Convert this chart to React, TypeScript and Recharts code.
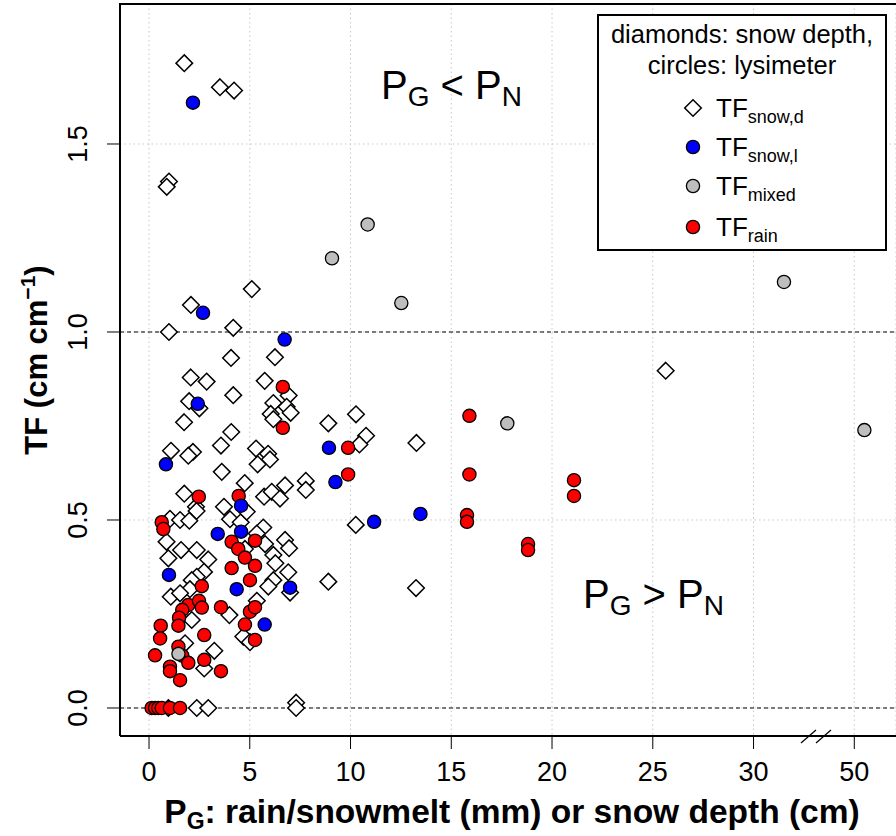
import { CartesianGrid, ReferenceLine, Scatter, ScatterChart, XAxis, YAxis } from 'recharts';

const FONT = "'Liberation Sans', Arial, Helvetica, sans-serif";

const snowDepth = [
  [1.75, 1.715], [3.52, 1.651], [4.22, 1.642], [0.99, 1.4], [0.88, 1.386],
  [5.1, 1.114], [2.08, 1.072], [0.99, 1.0], [4.18, 1.011], [4.07, 0.931], [6.25, 0.933],
  [2.07, 0.879], [2.86, 0.868], [5.74, 0.87], [6.93, 0.831], [4.18, 0.832], [1.99, 0.816],
  [2.5, 0.797], [6.17, 0.811], [6.04, 0.782], [6.83, 0.801], [7.03, 0.785], [6.17, 0.768],
  [1.74, 0.76], [8.9, 0.757], [10.27, 0.781], [10.77, 0.724], [10.44, 0.701], [13.27, 0.705],
  [25.64, 0.897], [4.08, 0.734], [3.57, 0.698], [1.09, 0.684], [2.18, 0.681], [1.95, 0.671],
  [5.31, 0.69], [5.91, 0.676], [6.0, 0.661], [5.39, 0.648], [3.61, 0.628], [4.75, 0.598],
  [1.75, 0.57], [5.71, 0.562], [6.09, 0.575], [6.5, 0.557], [6.75, 0.592], [7.78, 0.604],
  [7.78, 0.58], [2.33, 0.535], [3.72, 0.535], [2.36, 0.524], [1.04, 0.503], [1.54, 0.5],
  [2.0, 0.498], [4.02, 0.502], [4.55, 0.494], [4.85, 0.522], [5.67, 0.48], [5.35, 0.464],
  [10.26, 0.487], [0.87, 0.442], [1.59, 0.42], [2.37, 0.42], [0.96, 0.398], [5.76, 0.436],
  [4.76, 0.423], [6.75, 0.447], [6.95, 0.425], [6.17, 0.407], [6.27, 0.385], [6.91, 0.361],
  [2.94, 0.395], [2.73, 0.362], [2.37, 0.349], [2.12, 0.34], [2.03, 0.316], [1.08, 0.296],
  [1.54, 0.305], [6.17, 0.34], [5.92, 0.323], [7.0, 0.307], [8.9, 0.336], [13.25, 0.319],
  [2.12, 0.234], [3.99, 0.247], [5.35, 0.285], [4.68, 0.19], [5.01, 0.175], [1.79, 0.172],
  [3.24, 0.152], [2.74, 0.105], [0.96, 0], [2.37, 0], [2.94, 0], [7.3, 0.014], [7.3, 0],
];

const snowLys = [
  [2.18, 1.61], [2.68, 1.051], [6.73, 0.98], [2.42, 0.809], [8.93, 0.692], [9.25, 0.601],
  [0.84, 0.648], [4.57, 0.538], [3.41, 0.463], [4.57, 0.469], [11.17, 0.495], [13.47, 0.516],
  [0.99, 0.354], [4.35, 0.316], [7.0, 0.32], [5.74, 0.222],
];

const mixed = [
  [10.85, 1.286], [9.08, 1.196], [12.52, 1.077], [17.78, 0.757], [31.51, 1.133],
  [50.5, 0.739], [1.46, 0.144],
];

const rain = [
  [6.64, 0.854], [6.64, 0.745], [9.88, 0.692], [9.88, 0.621], [2.47, 0.562], [4.45, 0.564],
  [0.63, 0.494], [0.71, 0.476], [4.1, 0.442], [4.43, 0.423], [5.26, 0.445], [4.76, 0.4],
  [5.26, 0.378], [4.1, 0.372], [5.01, 0.34], [2.62, 0.324], [1.95, 0.274], [2.48, 0.285],
  [2.62, 0.267], [1.65, 0.261], [1.49, 0.24], [1.46, 0.219], [0.58, 0.219], [0.55, 0.185],
  [3.57, 0.268], [5.01, 0.256], [5.26, 0.268], [4.76, 0.222], [5.26, 0.181], [2.74, 0.194],
  [1.46, 0.163], [1.65, 0.139], [1.95, 0.12], [0.3, 0.14], [1.04, 0.11], [1.04, 0.098],
  [1.54, 0.074], [2.74, 0.128], [3.57, 0.098], [15.9, 0.777], [15.9, 0.621], [15.78, 0.513],
  [15.78, 0.495], [18.81, 0.436], [18.81, 0.42], [21.09, 0.606], [21.09, 0.564],
  [0.13, 0], [0.3, 0], [0.46, 0], [0.63, 0], [1.04, 0], [1.54, 0],
];

const xTicks = [0, 5, 10, 15, 20, 25, 30, 50];
const yTicks = [0, 0.5, 1.0, 1.5];
const refLines = [0, 1];

// axis break: values past 50 are drawn 15 units to the left
const toAxis = (v: number) => (v >= 40 ? v - 15 : v);
const fromAxis = (v: number) => (v >= 33 ? v + 15 : v);

const toPoints = (arr: number[][]) => arr.map(([x, y]) => ({ x: toAxis(x), y }));

const X_MIN = -1.44;
const X_MAX = 37.07;
const Y_MIN = -0.0745;
const Y_MAX = 1.8723;

function Diamond(props: any) {
  const { cx, cy } = props;
  if (cx == null || cy == null) return null;
  const r = 8.3;
  return (
    <path
      d={`M${cx},${cy - r}L${cx + r},${cy}L${cx},${cy + r}L${cx - r},${cy}Z`}
      fill='#fff'
      stroke='#000'
      strokeWidth={1.5}
    />
  );
}

const dot = (fill: string) => (props: any) => {
  const { cx, cy } = props;
  if (cx == null || cy == null) return null;
  return <circle cx={cx} cy={cy} r={6.6} fill={fill} stroke='#000' strokeWidth={1.3} />;
};

function XTick(props: any) {
  const { x, y, payload } = props;
  return (
    <text x={x} y={y} dy={28} textAnchor='middle' fontSize={27} fontFamily={FONT} fill='#000'>
      {fromAxis(payload.value)}
    </text>
  );
}

function YTick(props: any) {
  const { x, y, payload } = props;
  return (
    <text
      x={x}
      y={y}
      transform={`rotate(-90, ${x}, ${y})`}
      textAnchor='middle'
      fontSize={27}
      fontFamily={FONT}
      fill='#000'
    >
      {payload.value.toFixed(1)}
    </text>
  );
}

const legendItems = [
  { label: 'snow,d', kind: 'diamond', fill: '#fff' },
  { label: 'snow,l', kind: 'circle', fill: '#0000ff' },
  { label: 'mixed', kind: 'circle', fill: '#bebebe' },
  { label: 'rain', kind: 'circle', fill: '#ff0000' },
];

function Overlay() {
  const legendY = [108, 147, 186, 227];
  return (
    <svg
      width={896}
      height={836}
      style={{ position: 'absolute', left: 0, top: 0, pointerEvents: 'none' }}
      fontFamily={FONT}
    >
      {/* top border */}
      <line x1={119} y1={4} x2={896} y2={4} stroke='#000' strokeWidth={2} />
      {/* axis break marks */}
      <line x1={801} y1={743} x2={816} y2={730} stroke='#000' strokeWidth={1.2} />
      <line x1={816} y1={743} x2={831} y2={730} stroke='#000' strokeWidth={1.2} />

      <text x={381} y={99} fontSize={40} fill='#000'>
        P<tspan fontSize={28} dy={7}>G</tspan>
        <tspan fontSize={40} dy={-7}> &lt; P</tspan>
        <tspan fontSize={28} dy={7}>N</tspan>
      </text>
      <text x={583} y={608} fontSize={40} fill='#000'>
        P<tspan fontSize={28} dy={7}>G</tspan>
        <tspan fontSize={40} dy={-7}> &gt; P</tspan>
        <tspan fontSize={28} dy={7}>N</tspan>
      </text>

      {/* legend */}
      <rect x={598} y={15} width={288} height={235} fill='#fff' stroke='#000' strokeWidth={2} />
      <text x={742} y={43} textAnchor='middle' fontSize={25.5} fill='#000'>
        diamonds: snow depth,
      </text>
      <text x={742} y={74} textAnchor='middle' fontSize={25.5} fill='#000'>
        circles: lysimeter
      </text>
      {legendItems.map((it, i) => {
        const cy = legendY[i];
        return (
          <g key={it.label}>
            {it.kind === 'diamond' ? (
              <Diamond cx={693} cy={cy} />
            ) : (
              <circle cx={693} cy={cy} r={6.6} fill={it.fill} stroke='#000' strokeWidth={1.3} />
            )}
            <text x={716} y={cy + 9} fontSize={26} fill='#000'>
              TF<tspan fontSize={18} dy={6}>{it.label}</tspan>
            </text>
          </g>
        );
      })}

      {/* axis titles */}
      <text x={512} y={823} textAnchor='middle' fontSize={33.5} fontWeight='bold' fill='#000'>
        P<tspan fontSize={23} dy={6}>G</tspan>
        <tspan fontSize={33.5} dy={-6}>: rain/snowmelt (mm) or snow depth (cm)</tspan>
      </text>
      <text
        x={47}
        y={360}
        transform='rotate(-90, 47, 360)'
        textAnchor='middle'
        fontSize={31}
        fontWeight='bold'
        fill='#000'
      >
        TF (cm cm<tspan fontSize={21} dy={-12}>−1</tspan>
        <tspan fontSize={31} dy={12}>)</tspan>
      </text>
    </svg>
  );
}

export default function App() {
  return (
    <div style={{ position: 'absolute', left: 0, top: 0, width: 896, height: 836, background: '#fff' }}>
      <ScatterChart width={896} height={836} margin={{ top: 4, right: 0, bottom: 0, left: 0 }}>
        <CartesianGrid stroke='#c8c8c8' strokeDasharray='1.5 3' />
        <XAxis
          type='number'
          dataKey='x'
          domain={[X_MIN, X_MAX]}
          ticks={xTicks.map(toAxis)}
          allowDataOverflow
          height={100}
          tickSize={13}
          tickMargin={4}
          tick={<XTick />}
          tickLine={{ stroke: '#000', strokeWidth: 1 }}
          axisLine={{ stroke: '#000', strokeWidth: 2 }}
        />
        <YAxis
          type='number'
          dataKey='y'
          domain={[Y_MIN, Y_MAX]}
          ticks={yTicks}
          allowDataOverflow
          width={120}
          tickSize={13}
          tickMargin={20}
          tick={<YTick />}
          tickLine={{ stroke: '#000', strokeWidth: 1 }}
          axisLine={{ stroke: '#000', strokeWidth: 2 }}
        />
        {refLines.map(v => (
          <ReferenceLine key={v} y={v} stroke='#000' strokeWidth={1} strokeDasharray='4 3' />
        ))}
        <Scatter data={toPoints(snowDepth)} shape={Diamond} isAnimationActive={false} />
        <Scatter data={toPoints(rain)} shape={dot('#ff0000')} isAnimationActive={false} />
        <Scatter data={toPoints(snowLys)} shape={dot('#0000ff')} isAnimationActive={false} />
        <Scatter data={toPoints(mixed)} shape={dot('#bebebe')} isAnimationActive={false} />
      </ScatterChart>
      <Overlay />
    </div>
  );
}
